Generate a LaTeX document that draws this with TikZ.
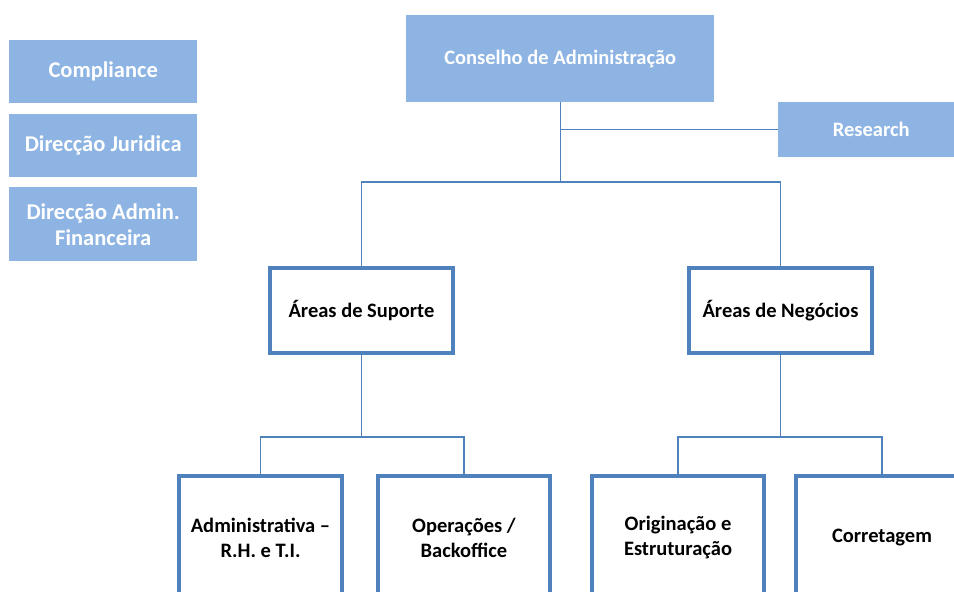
\documentclass[tikz,border=0pt]{standalone}
\usepackage{fontspec}
\setmainfont{Carlito}
\usepackage{xcolor}
\usepackage{tikz}
\definecolor{fillblue}{HTML}{8EB4E3}
\definecolor{lineblue}{HTML}{4F81BD}
\tikzset{
  head/.style={
    fill=fillblue,
    text=white,
    font=\fontsize{20.5}{25}\selectfont\bfseries,
    align=center,
    inner sep=0pt,
    anchor=north west
  },
  staff/.style={
    head,
    font=\fontsize{22.5}{26}\selectfont\bfseries
  },
  unit/.style={
    draw=lineblue,
    line width=4pt,
    fill=white,
    text=black,
    font=\fontsize{20.5}{25}\selectfont\bfseries,
    align=center,
    inner sep=0pt,
    anchor=north west
  },
  link/.style={draw=lineblue, line width=1.4pt}
}

\begin{document}
\begin{tikzpicture}[x=1pt,y=-1pt]
  \useasboundingbox (0,0) rectangle (954,592);
  \clip (0,0) rectangle (954,592);

  % top level
  \node[head, minimum width=308, minimum height=87] (board) at (406,15) {Conselho de Administração};
  \node[head, minimum width=186, minimum height=55] (research) at (778,102) {Research};

  % staff boxes
  \node[staff, minimum width=188, minimum height=63] (compl) at (9,40) {Compliance};
  \node[staff, minimum width=188, minimum height=63] (legal) at (9,114) {Direcção Juridica};
  \node[staff, minimum width=188, minimum height=74] (finance) at (9,187) {Direcção Admin.\\Financeira};

  % areas
  \node[unit, minimum width=183, minimum height=85] (supp) at (268,266) {Áreas de Suporte};
  \node[unit, minimum width=183, minimum height=85] (biz) at (687,266) {Áreas de Negócios};

  % units
  \node[unit, minimum width=163, minimum height=124] (adm) at (177,474) {Administrativa –\\R.H. e T.I.};
  \node[unit, minimum width=172, minimum height=124] (ops) at (376,474) {Operações /\\Backoffice};
  \node[unit, minimum width=172, minimum height=124] (orig) at (590,474) {Originação e\\Estruturação};
  \node[unit, minimum width=172, minimum height=124] (corr) at (794,474) {Corretagem};

  \coordinate (hub) at (560,182);
  \coordinate (sfork) at (360,437);
  \coordinate (bfork) at (779,437);

  \draw[link] (board.south) -- (board.south |- hub);
  \draw[link] (board.south |- research.west) -- (research.west);
  \draw[link] (supp.north) |- (hub) -| (biz.north);

  \draw[link] (supp.south) -- (supp.south |- sfork);
  \draw[link] (adm.north) |- (sfork) -| (ops.north);
  \draw[link] (biz.south) -- (biz.south |- bfork);
  \draw[link] (orig.north) |- (bfork) -| (corr.north);
\end{tikzpicture}
\end{document}
